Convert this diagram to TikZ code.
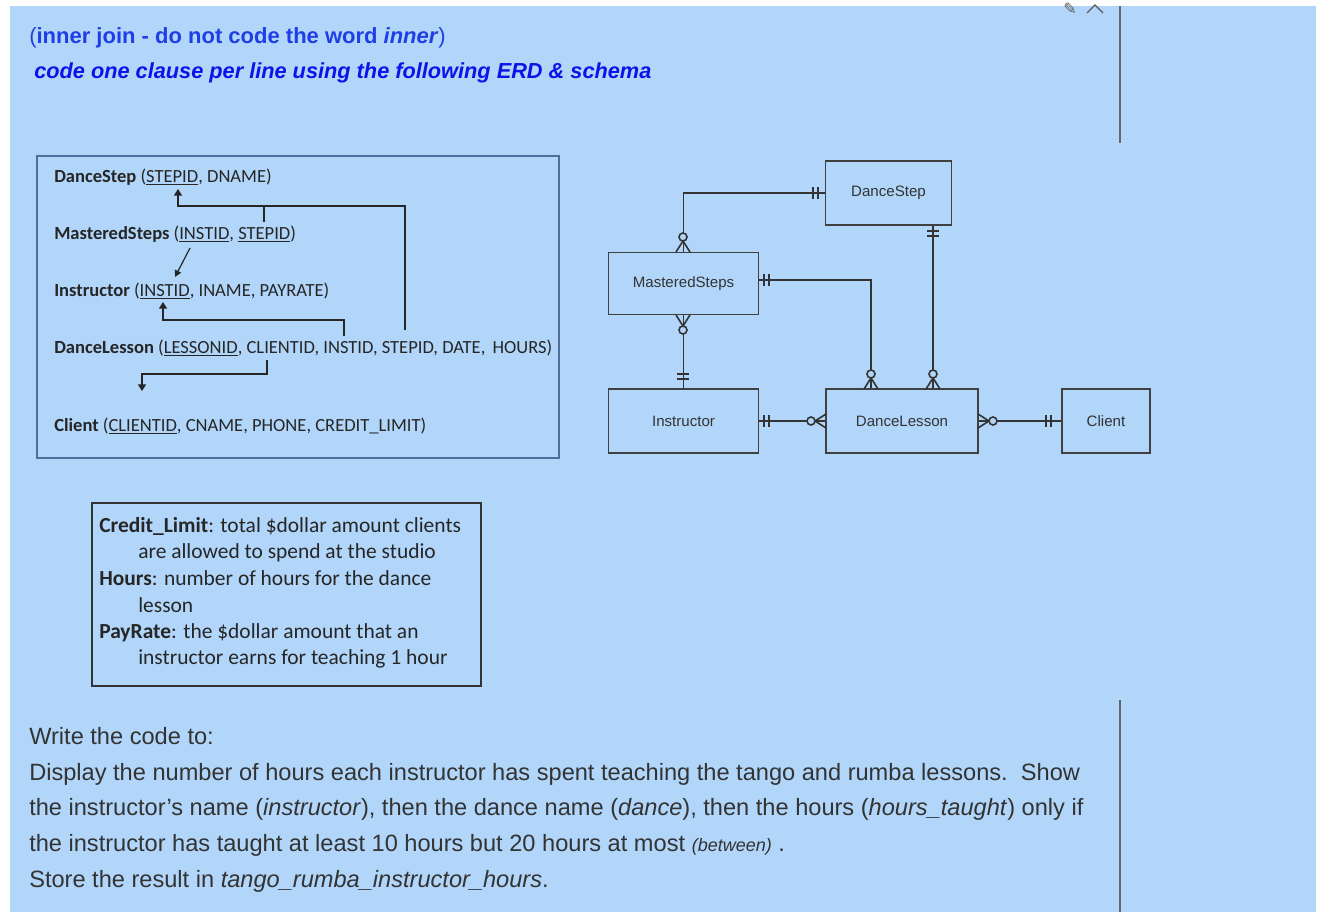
\documentclass[tikz,border=0pt]{standalone}
\usepackage{fontspec}
\setmainfont{Liberation Sans}
\newfontfamily\calfont{Carlito}
\newfontfamily\djv{DejaVu Sans}
\usetikzlibrary{arrows.meta}
\definecolor{bg}{HTML}{B1D6FA}
\definecolor{tblue}{HTML}{1F3FE6}
\definecolor{ibl}{HTML}{0A14E8}
\definecolor{txt}{HTML}{333333}
\definecolor{frame}{HTML}{4F6E9C}
\newcommand\crowD[2]{\draw (#1,#2-11)--(#1-7,#2) (#1,#2-11)--(#1+7,#2); \draw[fill=bg] (#1,#2-15) circle[radius=4];}
\newcommand\crowU[2]{\draw (#1,#2+11)--(#1-7,#2) (#1,#2+11)--(#1+7,#2); \draw[fill=bg] (#1,#2+15) circle[radius=4];}
\newcommand\crowR[2]{\draw (#1-11,#2)--(#1,#2-7) (#1-11,#2)--(#1,#2+7); \draw[fill=bg] (#1-15,#2) circle[radius=4];}
\newcommand\crowL[2]{\draw (#1+11,#2)--(#1,#2-7) (#1+11,#2)--(#1,#2+7); \draw[fill=bg] (#1+15,#2) circle[radius=4];}
\newcommand\barsH[2]{\draw (#1,#2-6)--(#1,#2+6) (#1+5,#2-6)--(#1+5,#2+6);}
\newcommand\barsV[2]{\draw (#1-6,#2)--(#1+6,#2) (#1-6,#2+5)--(#1+6,#2+5);}
\begin{document}
\begin{tikzpicture}[x=0.75pt,y=-0.75pt,
  ent/.style={draw=black!75,line width=0.9pt,minimum height=48pt,inner sep=0pt,font=\fontsize{11.3}{12}\selectfont,text=black!80},
  erl/.style={line width=1.2pt,draw=black!80},
  sch/.style={anchor=base west,inner sep=0pt,font=\calfont\fontsize{13.9}{15}\selectfont,text=black!85},
  sarr/.style={line width=1.4pt,draw=black!85},
  note/.style={anchor=base west,inner sep=0pt,font=\calfont\fontsize{16.1}{18}\selectfont,text=black!85},
  body/.style={anchor=base west,inner sep=0pt,font=\fontsize{17.7}{20}\selectfont,text=txt}]
\useasboundingbox (0,0) rectangle (1340,924);
\fill[white] (0,0) rectangle (1340,924);
\fill[bg] (10,6) rectangle (1316,912);
\draw[gray!80!black,line width=0.8pt] (1120,6)--(1120,143) (1120,700)--(1120,912);
\draw[gray!70!black,line width=1pt] (1087,13)--(1095,5)--(1103,13);
\node[anchor=center,inner sep=0pt,font=\djv\fontsize{12}{12}\selectfont,text=gray!70!black] (pen) at (1070,9) {\char"270E};
% titles
\node[anchor=base west,inner sep=0pt,font=\fontsize{16.5}{18}\selectfont,text=tblue] (t1) at (29,44) {(\textbf{inner join - do not code the word \textit{inner}})};
\node[anchor=base west,inner sep=0pt,font=\bfseries\itshape\fontsize{16.3}{18}\selectfont,text=ibl] (t2) at (34,79) {code one clause per line using the following ERD \& schema};
% schema box
\draw[frame,line width=1pt] (37,156) rectangle (559,458);
\node[sch] (s1) at (54,182) {\textbf{DanceStep} (\underline{STEPID}, DNAME)};
\node[sch] (s2) at (54,239) {\textbf{MasteredSteps} (\underline{INSTID}, \underline{STEPID})};
\node[sch] (s3) at (54,296) {\textbf{Instructor} (\underline{INSTID}, INAME, PAYRATE)};
\node[sch] (s4) at (54,353) {\textbf{DanceLesson} (\underline{LESSONID}, CLIENTID, INSTID, STEPID, DATE,\, HOURS)};
\node[sch] (s5) at (54,431) {\textbf{Client} (\underline{CLIENTID}, CNAME, PHONE, CREDIT\_LIMIT)};
\draw[sarr,-{Triangle[length=5pt,width=6pt]}] (405,330)--(405,206)--(178,206)--(178,189);
\draw[sarr] (264,206)--(264,222);
\draw[line width=0.9pt,draw=black!85,-{Triangle[length=5pt,width=5pt]}] (190,248)--(175,277);
\draw[sarr,-{Triangle[length=5pt,width=6pt]}] (344,336)--(344,320)--(163,320)--(163,302);
\draw[sarr,-{Triangle[length=5pt,width=6pt]}] (267,360)--(267,374)--(142,374)--(142,391);
% notes box
\draw[black!80,line width=0.9pt] (92,503) rectangle (481,686);
\node[note] (n1) at (99,532) {\textbf{Credit\_Limit}: total \$dollar amount clients};
\node[note] (n2) at (138,558) {are allowed to spend at the studio};
\node[note] (n3) at (99,585) {\textbf{Hours}: number of hours for the dance};
\node[note] (n4) at (138,612) {lesson};
\node[note] (n5) at (99,638) {\textbf{PayRate}: the \$dollar amount that an};
\node[note] (n6) at (138,664) {instructor earns for teaching 1 hour};
% ERD
\node[ent,minimum width=94pt] (ds) at (888.5,193) {DanceStep};
\node[ent,minimum width=113pt,minimum height=47pt] (ms) at (683.5,283.5) {MasteredSteps};
\node[ent,minimum width=113pt] (in) at (683.5,421) {Instructor};
\node[ent,minimum width=114pt] (dl) at (902,421) {DanceLesson};
\node[ent,minimum width=66pt] (cl) at (1106,421) {Client};
\draw[erl] (ms.north) |- (ds.west);
\draw[erl] (ds.south -| 933,0) -- (dl.north -| 933,0);
\draw[erl] (ms.east) ++(0,-3.5) coordinate (mse) -| (dl.north -| 871,0);
\draw[erl] (ms.south) -- (in.north);
\draw[erl] (in.east) -- (dl.west);
\draw[erl] (dl.east) -- (cl.west);
\begin{scope}[erl]
\barsH{813}{193}
\crowD{683}{252}
\barsV{933}{231}
\crowD{933}{389}
\barsH{764}{280}
\crowD{871}{389}
\crowU{683}{315}
\barsV{683}{374}
\barsH{764}{421}
\crowR{826}{421}
\crowL{978}{421}
\barsH{1046}{421}
\end{scope}
% body text
\node[body] (b1) at (29,744) {Write the code to:};
\node[body] (b2) at (29,780) {Display the number of hours each instructor has spent teaching the tango and rumba lessons.\ \ Show};
\node[body] (b3) at (29,815) {the instructor's name (\textit{instructor}), then the dance name (\textit{dance}), then the hours (\textit{hours\_taught}) only if};
\node[body] (b4) at (29,851) {the instructor has taught at least 10 hours but 20 hours at most {\fontsize{13.5}{14}\selectfont\textit{(between)}} .};
\node[body] (b5) at (29,887) {Store the result in \textit{tango\_rumba\_instructor\_hours}.};
\end{tikzpicture}
\end{document}
